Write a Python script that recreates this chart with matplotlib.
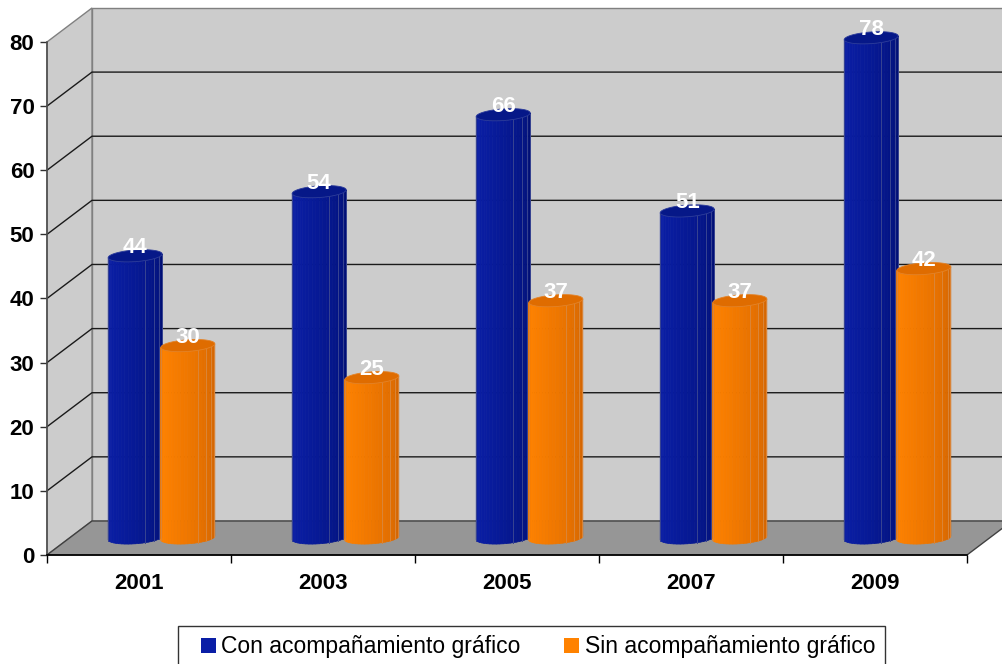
import numpy as np
import matplotlib
matplotlib.use("Agg")
import matplotlib.pyplot as plt
import matplotlib.transforms as mtransforms
from matplotlib.patches import Polygon
from matplotlib.lines import Line2D
from matplotlib.colors import to_rgb

plt.rcParams['font.family'] = ['Liberation Sans', 'DejaVu Sans']

# Data
years = ['2001', '2003', '2005', '2007', '2009']
con_grafico = [44, 54, 66, 51, 78]
sin_grafico = [30, 25, 37, 37, 42]
series_names = ['Con acompañamiento gráfico', 'Sin acompañamiento gráfico']
y_ticks = [0, 10, 20, 30, 40, 50, 60, 70, 80]

# Colours: (light side, dark side, top)
blue = ('#0a1ea6', '#000f72', '#061888')
orange = ('#ff8200', '#d06200', '#df6c00')

# 3D look: offset of the back wall in pixels
DEPTH_X, DEPTH_Y = 45, 34

fig = plt.figure(figsize=(10.02, 6.64), dpi=100)
ax = fig.add_axes([0.0469, 0.1642, 0.9182, 0.7726])
ax.set_xlim(0, len(years))
ax.set_ylim(y_ticks[0], y_ticks[-1])
ax.patch.set_visible(False)
ident = mtransforms.IdentityTransform()


def proj(x, v, d):
    # data (x, value) plus depth fraction -> display pixels
    pts = ax.transData.transform(np.column_stack([np.atleast_1d(x), np.atleast_1d(v)]))
    return pts + np.outer(np.atleast_1d(d), [DEPTH_X, DEPTH_Y])


def poly(x, v, d, **kw):
    p = Polygon(proj(x, v, d), closed=True, transform=ident, clip_on=False, **kw)
    ax.add_patch(p)
    return p


n = len(years)
vmax = y_ticks[-1]

# back wall, side wall, floor
poly([0, n, n, 0], [0, 0, vmax, vmax], [1, 1, 1, 1], fc='#cccccc', ec='#808080', lw=1, zorder=0)
poly([0, 0, 0, 0], [0, 0, vmax, vmax], [0, 1, 1, 0], fc='#cccccc', ec='#808080', lw=1, zorder=0)
poly([0, n, n, 0], [0, 0, 0, 0], [0, 0, 1, 1], fc='#969696', ec='#404040', lw=1, zorder=0.2)

# gridlines on walls
for v in y_ticks[1:-1]:
    pts = proj([0, 0, n], [v, v, v], [0, 1, 1])
    ax.plot(pts[:, 0], pts[:, 1], color='#1a1a1a', lw=1, transform=ident, clip_on=False, zorder=0.1)


def mix(c1, c2, f):
    a, b = np.array(to_rgb(c1)), np.array(to_rgb(c2))
    return tuple(a + (b - a) * f)


def cylinder(cx, value, colors, zorder):
    rx = 0.14       # radius along x (data units)
    rd = 0.18       # radius along depth (fraction)
    dc = 0.5        # depth centre
    rx_px = rx * (ax.transData.transform((1, 0))[0] - ax.transData.transform((0, 0))[0])
    t0 = np.arctan2(rd * DEPTH_X, rx_px)
    nfac = 24
    ts = np.linspace(t0 + np.pi, t0 + 2 * np.pi, nfac + 1)
    for a, b in zip(ts[:-1], ts[1:]):
        xs = cx + rx * np.cos([a, b, b, a])
        ds = dc + rd * np.sin([a, b, b, a])
        vs = [0, 0, value, value]
        f = ((a + b) / 2 - ts[0]) / (ts[-1] - ts[0])
        fc = mix(colors[0], colors[1], f ** 1.6)
        poly(xs, vs, ds, fc=fc, ec=fc, lw=0.5, zorder=zorder)
    # thin highlight seams
    for f in [0.04, 0.62, 0.74, 0.84, 0.93]:
        t = ts[0] + f * (ts[-1] - ts[0])
        pts = proj([cx + rx * np.cos(t)] * 2, [0, value], [dc + rd * np.sin(t)] * 2)
        ax.plot(pts[:, 0], pts[:, 1], color=mix(colors[1], '#ffffff', 0.22), lw=0.7,
                transform=ident, clip_on=False, zorder=zorder + 0.05)
    tt = np.linspace(0, 2 * np.pi, 60)
    poly(cx + rx * np.cos(tt), np.full_like(tt, value), dc + rd * np.sin(tt),
         fc=colors[2], ec=mix(colors[2], '#ffffff', 0.15), lw=0.6, zorder=zorder + 0.1)
    # value label above the top face
    off = mtransforms.ScaledTranslation(dc * DEPTH_X / 100, (dc * DEPTH_Y + 8) / 100, fig.dpi_scale_trans)
    ax.text(cx, value, str(value), transform=ax.transData + off, ha='center', va='center',
            color='white', fontsize=16, fontweight='bold', zorder=zorder + 0.2, clip_on=False)


half = 0.143
for i in range(n):
    cylinder(i + 0.5 - half, con_grafico[i], blue, 3 + i)
    cylinder(i + 0.5 + half, sin_grafico[i], orange, 3.5 + i)

# axes
for s in ['top', 'right']:
    ax.spines[s].set_visible(False)
ax.spines['left'].set_color('#505050')
ax.spines['bottom'].set_color('black')
ax.spines['left'].set_linewidth(1.2)
ax.spines['bottom'].set_linewidth(1.2)
ax.set_yticks(y_ticks)
ax.set_yticklabels([str(v) for v in y_ticks], fontsize=16, fontweight='bold')
ax.tick_params(axis='y', length=5, width=1, pad=4, color='#303030')
ax.set_xticks(np.arange(n + 1))
ax.set_xticklabels([])
ax.set_xticks(np.arange(n) + 0.5, minor=True)
ax.set_xticklabels(years, minor=True, fontsize=16, fontweight='bold')
ax.tick_params(axis='x', which='major', length=6, width=1)
ax.tick_params(axis='x', which='minor', length=0, pad=13)

handles = [Line2D([], [], marker='s', ms=10.8, mew=0, color=blue[0], ls='none'),
           Line2D([], [], marker='s', ms=10.8, mew=0, color=orange[0], ls='none')]
leg = fig.legend(handles, series_names, loc='upper left', bbox_to_anchor=(0.1776, 0.0572),
                 ncol=2, fontsize=16.5, frameon=True, fancybox=False, edgecolor='black',
                 handlelength=1.8, handletextpad=-0.3, columnspacing=1.3,
                 borderaxespad=0, borderpad=0.4)
leg.get_frame().set_linewidth(1)

fig.savefig('out.png', dpi=100)
